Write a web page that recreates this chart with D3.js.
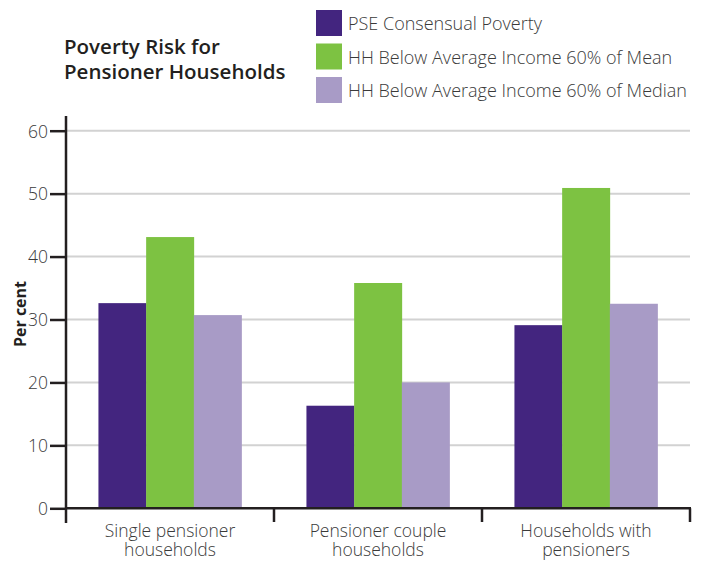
<!DOCTYPE html>
<html>
<head>
<meta charset="utf-8">
<script src="https://cdn.jsdelivr.net/npm/d3@7"></script>
<style>
  html, body { margin: 0; padding: 0; background: #fff; }
  svg { display: block; }
  text { font-family: "Open Sans", "Noto Sans", sans-serif; }
</style>
</head>
<body>
<svg id="chart" width="706" height="561"></svg>
<script>
// Household types along the x axis
const categories = ["Single pensioner households", "Pensioner couple households", "Households with pensioners"];
const categoryLines = [["Single pensioner", "households"], ["Pensioner couple", "households"], ["Households with", "pensioners"]];

// Poverty measures (series)
const seriesNames = ["PSE Consensual Poverty", "HH Below Average Income 60% of Mean", "HH Below Average Income 60% of Median"];
const seriesColors = ["#43257f", "#7dc242", "#a89bc6"];

// Per cent of households in each group, per measure
const pseValues = [32.6, 16.3, 29.1];
const meanValues = [43.1, 35.8, 50.9];
const medianValues = [30.7, 20.0, 32.5];
const seriesValues = [pseValues, meanValues, medianValues];

const yTicks = [0, 10, 20, 30, 40, 50, 60];

const svg = d3.select("#chart");
const plotLeft = 66, plotRight = 690, plotTop = 130.7, plotBottom = 508.3;

const x0 = d3.scaleBand().domain(categories).range([plotLeft, plotRight]).padding(0);
const x1 = d3.scaleBand().domain(seriesNames).range([0, x0.bandwidth()]).paddingInner(0).paddingOuter(0.68);
const y = d3.scaleLinear().domain([0, 60]).range([plotBottom, plotTop]);

// Horizontal gridlines
svg.append("g")
  .selectAll("line")
  .data(yTicks.filter(d => d > 0))
  .join("line")
  .attr("x1", plotLeft).attr("x2", plotRight)
  .attr("y1", d => y(d)).attr("y2", d => y(d))
  .attr("stroke", "#d2d2d2").attr("stroke-width", 2);

// Bars
const rows = categories.map((c, i) => ({ cat: c, vals: seriesNames.map((s, j) => ({ s, v: seriesValues[j][i], color: seriesColors[j] })) }));
svg.append("g")
  .selectAll("g")
  .data(rows)
  .join("g")
  .attr("transform", d => `translate(${x0(d.cat)},0)`)
  .selectAll("rect")
  .data(d => d.vals)
  .join("rect")
  .attr("x", d => x1(d.s))
  .attr("width", x1.bandwidth() + 0.3)
  .attr("y", d => y(d.v))
  .attr("height", d => y(0) - y(d.v))
  .attr("fill", d => d.color);

const axisColor = "#231f20";
const labelColor = "#3a3a3a";

// Y axis
const yAxis = svg.append("g")
  .attr("transform", `translate(${plotLeft},0)`)
  .call(d3.axisLeft(y).tickValues(yTicks).tickSize(16).tickPadding(2));
yAxis.select(".domain").remove();
yAxis.selectAll(".tick line").attr("stroke", axisColor).attr("stroke-width", 2.5);
yAxis.selectAll(".tick text")
  .attr("fill", labelColor)
  .style("font-size", "17.5px")
  .style("font-weight", "300")
  .attr("dy", "0.36em");
svg.append("line")
  .attr("x1", plotLeft).attr("x2", plotLeft)
  .attr("y1", 116).attr("y2", 523)
  .attr("stroke", axisColor).attr("stroke-width", 2.5);

// X axis with ticks at the category boundaries
svg.append("line")
  .attr("x1", plotLeft).attr("x2", plotRight + 1)
  .attr("y1", y(0)).attr("y2", y(0))
  .attr("stroke", axisColor).attr("stroke-width", 2.5);
const edges = categories.map(c => x0(c)).concat([x0(categories[categories.length - 1]) + x0.bandwidth()]);
svg.append("g")
  .selectAll("line")
  .data(edges.slice(1))
  .join("line")
  .attr("x1", d => d).attr("x2", d => d)
  .attr("y1", y(0)).attr("y2", 522)
  .attr("stroke", axisColor).attr("stroke-width", 2.5);

// Category labels, one text per line
categories.forEach((c, i) => {
  svg.append("g")
    .selectAll("text")
    .data(categoryLines[i])
    .join("text")
    .attr("x", x0(c) + x0.bandwidth() / 2)
    .attr("y", (t, k) => 537 + k * 18.5)
    .attr("text-anchor", "middle")
    .attr("fill", labelColor)
    .style("font-size", "17.5px")
    .style("font-weight", "300")
    .text(t => t);
});

// Y axis title
svg.append("text")
  .attr("transform", "translate(26,314) rotate(-90)")
  .attr("text-anchor", "middle")
  .attr("fill", "#231f20")
  .style("font-size", "16px")
  .style("font-weight", "700")
  .text("Per cent");

// Chart title
svg.append("g")
  .selectAll("text")
  .data(["Poverty Risk for", "Pensioner Households"])
  .join("text")
  .attr("x", 64)
  .attr("y", (t, k) => 54 + k * 25)
  .attr("fill", "#231f20")
  .style("font-size", "20.5px")
  .style("font-weight", "600")
  .text(t => t);

// Legend
const legend = svg.append("g")
  .selectAll("g")
  .data(seriesNames)
  .join("g")
  .attr("transform", (d, i) => `translate(316,${10 + i * 33.5})`);
legend.append("rect")
  .attr("width", 26).attr("height", 26)
  .attr("fill", (d, i) => seriesColors[i]);
legend.append("text")
  .attr("x", 32).attr("y", 20)
  .attr("fill", labelColor)
  .style("font-size", "18px")
  .style("font-weight", "300")
  .text(d => d);
</script>
</body>
</html>
